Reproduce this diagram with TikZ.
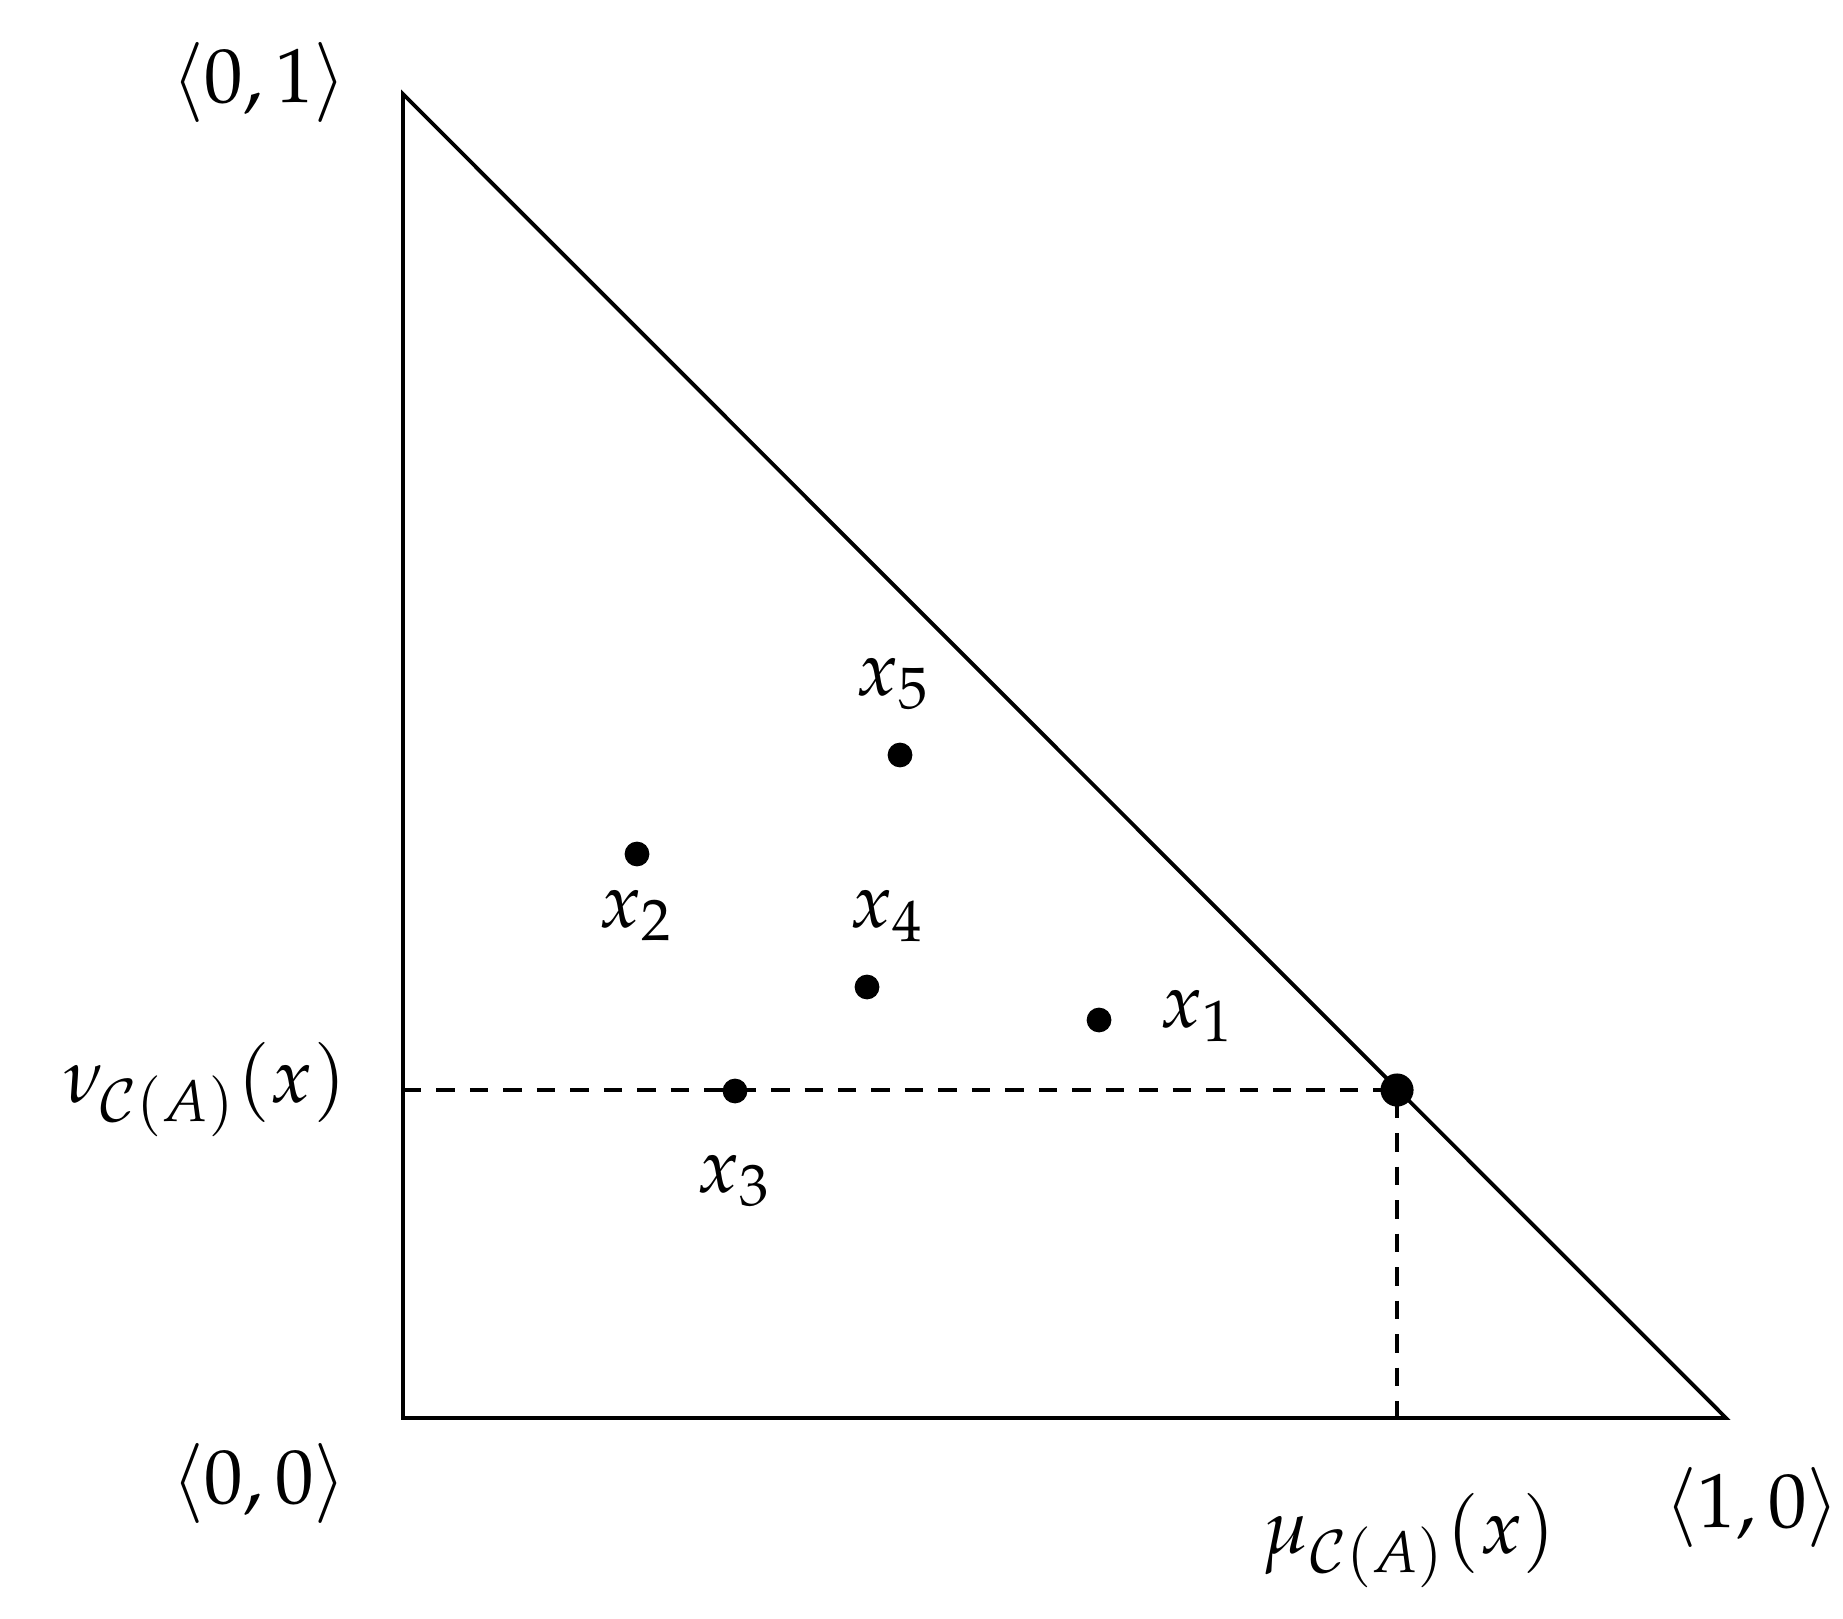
\documentclass[tikz,border=0pt]{standalone}
\usepackage{mathpazo}
\begin{document}
\begin{tikzpicture}[x=0.1300pt,y=-0.1300pt,
  dot/.style={circle,fill=black,inner sep=0pt,minimum size=3.22pt},
  bigdot/.style={circle,fill=black,inner sep=0pt,minimum size=4.3pt},
  lab/.style={anchor=base west,inner sep=0pt},
  edge/.style={line width=0.5pt},
  guide/.style={line width=0.52pt,dash pattern=on 2.4pt off 1.95pt}]
\useasboundingbox (0,0) rectangle (1843,1618);
\coordinate (T) at (403,94);
\coordinate (O) at (403,1418);
\coordinate (R) at (1726,1418);
\draw[edge] (T) -- (O) -- (R) -- cycle;
\node[bigdot] (P) at (1397,1090) {};
\draw[guide] (O |- P) -- (P.center) -- (P |- O);
\node[dot] (p1) at (1099,1020) {};
\node[dot] (p2) at (637,854) {};
\node[dot] (p3) at (735,1091) {};
\node[dot] (p4) at (867,987) {};
\node[dot] (p5) at (900,755) {};
\node[lab] (l1) at (1159,1027) {$x_1$};
\node[lab] (l2) at (598,927) {$x_2$};
\node[lab] (l3) at (696,1192) {$x_3$};
\node[lab] (l4) at (849,927) {$x_4$};
\node[lab] (l5) at (855,695) {$x_5$};
\node[lab] (c01) at (170,103) {$\langle 0,1\rangle$};
\node[lab] (c00) at (170,1503) {$\langle 0,0\rangle$};
\node[lab] (c10) at (1663,1527) {$\langle 1,0\rangle$};
\node[lab] (nu) at (62,1102) {$\nu_{\mathcal{C}(A)}(x)$};
\node[lab] (mu) at (1261,1553) {$\mu_{\mathcal{C}(A)}(x)$};
\end{tikzpicture}
\end{document}
